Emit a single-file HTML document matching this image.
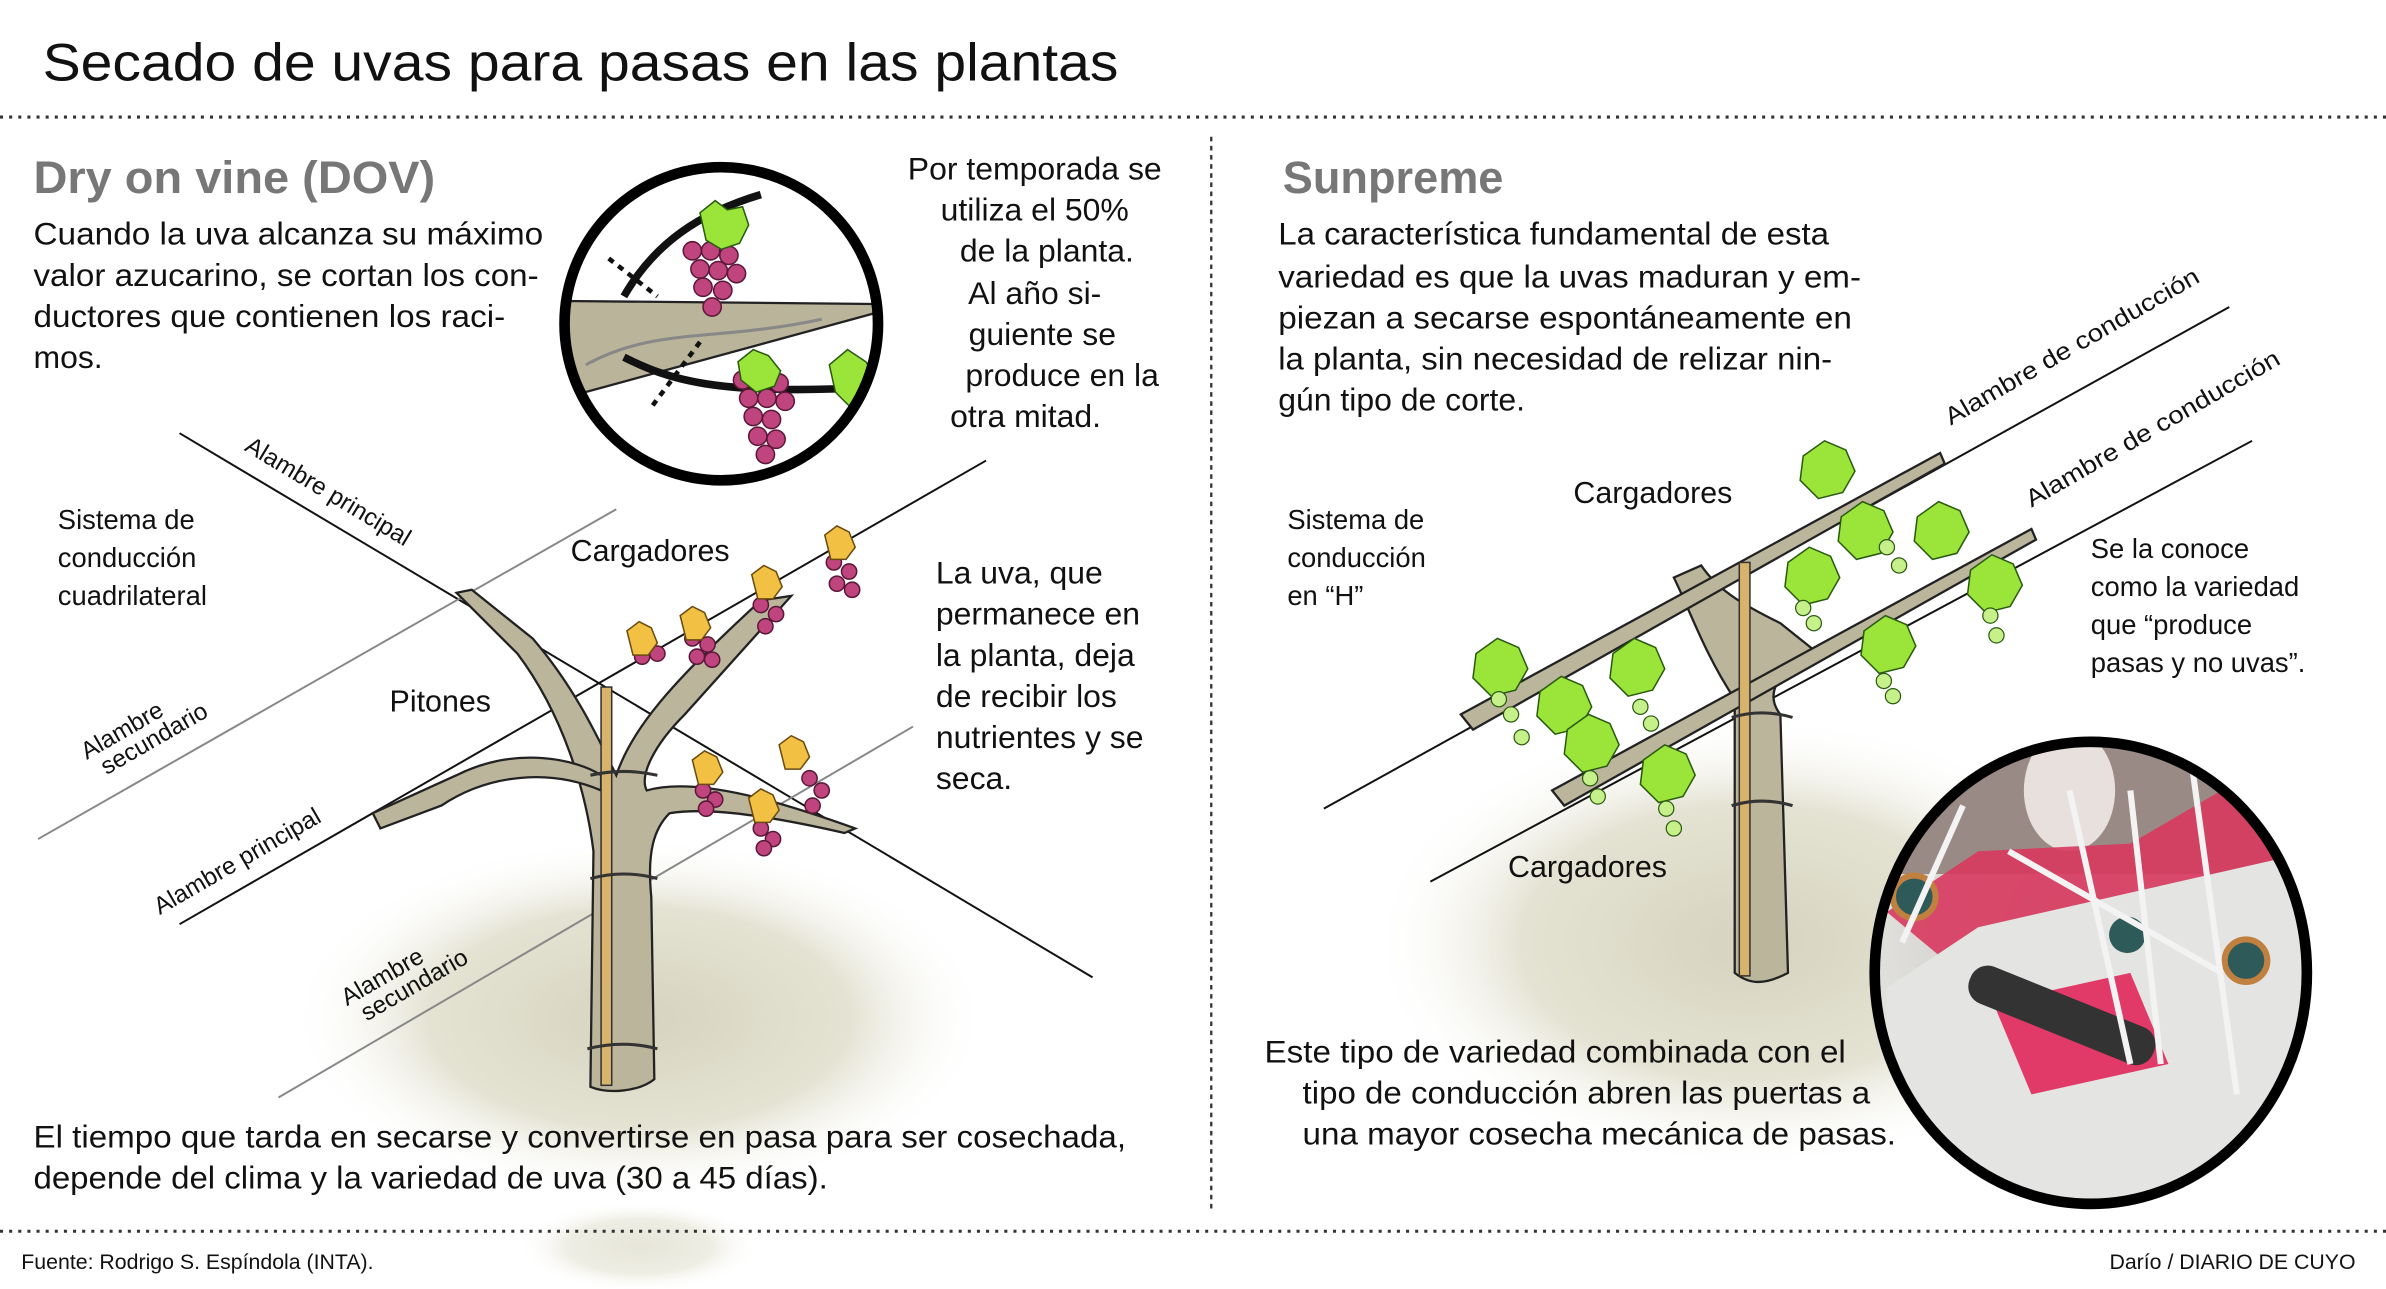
<!DOCTYPE html>
<html><head><meta charset="utf-8"><style>
html,body{margin:0;padding:0;background:#fff;}
svg{display:block;}
text{font-family:"Liberation Sans",sans-serif;fill:#111;}
.p{font-size:21px;}
.s{font-size:18px;}
.w{font-size:16px;}
</style></head><body>
<svg width="2386" height="1289" viewBox="0 0 1568 848" preserveAspectRatio="none" xmlns="http://www.w3.org/2000/svg">
<defs>
<radialGradient id="sh" cx="50%" cy="50%" r="50%">
<stop offset="0" stop-color="#d6d4bf"/><stop offset="0.6" stop-color="#e4e2d2"/><stop offset="1" stop-color="#fff" stop-opacity="0"/>
</radialGradient>
<radialGradient id="ph" cx="45%" cy="40%" r="60%">
<stop offset="0" stop-color="#c8c6c0"/><stop offset="1" stop-color="#e8e8e6"/>
</radialGradient>
<clipPath id="pc"><ellipse cx="1374" cy="640" rx="142" ry="152"/></clipPath>
<clipPath id="dc"><circle cx="474" cy="213" r="103"/></clipPath>
</defs>
<rect width="1568" height="848" fill="#fff"/>
<ellipse cx="420" cy="670" rx="230" ry="120" fill="url(#sh)"/>
<ellipse cx="1150" cy="620" rx="250" ry="150" fill="url(#sh)"/>
<ellipse cx="420" cy="820" rx="80" ry="30" fill="url(#sh)" opacity="0.6"/>

<text x="28" y="53" font-size="35" textLength="707" lengthAdjust="spacingAndGlyphs">Secado de uvas para pasas en las plantas</text>
<line x1="0" y1="77" x2="1568" y2="77" stroke="#333" stroke-width="2" stroke-dasharray="2,4"/>
<line x1="0" y1="810" x2="1568" y2="810" stroke="#333" stroke-width="2" stroke-dasharray="2,4"/>
<line x1="796" y1="90" x2="796" y2="795" stroke="#333" stroke-width="1.5" stroke-dasharray="3,3"/>

<text x="22" y="127" font-size="30" font-weight="bold" style="fill:#777" textLength="264" lengthAdjust="spacingAndGlyphs">Dry on vine (DOV)</text>
<text class="p" x="22" y="161" textLength="335" lengthAdjust="spacingAndGlyphs">Cuando la uva alcanza su máximo</text>
<text class="p" x="22" y="188" textLength="332" lengthAdjust="spacingAndGlyphs">valor azucarino, se cortan los con-</text>
<text class="p" x="22" y="215" textLength="310" lengthAdjust="spacingAndGlyphs">ductores que contienen los raci-</text>
<text class="p" x="22" y="242">mos.</text>

<g>
<circle cx="474" cy="213" r="103" fill="#fff"/>
<g clip-path="url(#dc)">
<polygon points="370,198 575,200 575,206 370,262" fill="#b9b49a" stroke="#222" stroke-width="1.5"/>
<path d="M385,240 C430,215 470,225 540,210" stroke="#888" fill="none" stroke-width="2"/>
<path d="M410,195 C430,160 460,140 500,128" stroke="#111" stroke-width="5" fill="none"/>
<path d="M410,235 C440,250 470,260 570,255" stroke="#111" stroke-width="5" fill="none"/>
<line x1="400" y1="170" x2="432" y2="195" stroke="#111" stroke-width="3" stroke-dasharray="4,4"/>
<line x1="460" y1="225" x2="428" y2="268" stroke="#111" stroke-width="3" stroke-dasharray="4,4"/>
<g fill="#c0457f" stroke="#5a1838" stroke-width="1">
<circle cx="455" cy="165" r="6"/><circle cx="467" cy="165" r="6"/><circle cx="479" cy="168" r="6"/><circle cx="460" cy="177" r="6"/><circle cx="472" cy="178" r="6"/><circle cx="484" cy="180" r="6"/><circle cx="462" cy="189" r="6"/><circle cx="475" cy="191" r="6"/><circle cx="468" cy="202" r="6"/>
<circle cx="488" cy="250" r="6"/><circle cx="500" cy="248" r="6"/><circle cx="512" cy="252" r="6"/><circle cx="492" cy="262" r="6"/><circle cx="504" cy="262" r="6"/><circle cx="516" cy="264" r="6"/><circle cx="495" cy="274" r="6"/><circle cx="507" cy="276" r="6"/><circle cx="498" cy="287" r="6"/><circle cx="510" cy="289" r="6"/><circle cx="503" cy="299" r="6"/>
</g>
<g fill="#9be53a" stroke="#2a5a10" stroke-width="1">
<path d="M460,140 l10,-8 l8,6 l10,-2 l4,12 l-6,12 l-12,4 l-10,-6z"/>
<path d="M485,238 l10,-8 l10,4 l8,10 l-4,10 l-12,4 l-10,-8z"/>
<path d="M545,240 l12,-10 l12,8 l8,12 l-6,12 l-12,6 l-10,-10z"/>
</g>
</g>
<circle cx="474" cy="213" r="103" fill="none" stroke="#000" stroke-width="7"/>
</g>
<g text-anchor="middle">
<text x="680" y="118" font-size="21">Por temporada se</text>
<text x="680" y="145" font-size="21">utiliza el 50%</text>
<text x="688" y="172" font-size="21">de la planta.</text>
<text x="680" y="200" font-size="21">Al año si-</text>
<text x="685" y="227" font-size="21">guiente se</text>
<text x="698" y="254" font-size="21">produce en la</text>
<text x="674" y="281" font-size="21">otra mitad.</text>
</g>

<line x1="118" y1="285" x2="718" y2="643" stroke="#111" stroke-width="1.3"/>
<line x1="25" y1="552" x2="405" y2="335" stroke="#888" stroke-width="1.3"/>
<line x1="118" y1="608" x2="648" y2="303" stroke="#111" stroke-width="1.3"/>
<line x1="183" y1="722" x2="600" y2="478" stroke="#888" stroke-width="1.3"/>
<text class="w" transform="translate(160,296) rotate(31)">Alambre principal</text>
<text class="w" transform="translate(57,500) rotate(-30)">Alambre</text>
<text class="w" transform="translate(70,510) rotate(-30)">secundario</text>
<text class="w" transform="translate(105,602) rotate(-30)">Alambre principal</text>
<text class="w" transform="translate(228,662) rotate(-30)">Alambre</text>
<text class="w" transform="translate(241,672) rotate(-30)">secundario</text>

<g fill="#bbb59c" stroke="#222" stroke-width="1.5">
<path d="M388,715 L390,560 C385,520 370,470 340,430 L300,390 L310,388 L350,420 C380,455 395,490 405,510 C415,480 440,450 500,395 L520,392 L450,470 C430,490 420,510 425,520 C460,510 520,530 562,545 L555,548 C520,540 470,530 440,535 C430,545 425,560 428,590 L430,710 C420,718 400,720 388,715Z"/>
<path d="M395,520 C360,505 320,510 290,530 L250,545 L245,535 L300,510 C340,490 380,500 395,510Z"/>
</g>
<rect x="395" y="452" width="7" height="262" fill="#d8b36b" stroke="#333" stroke-width="1"/>
<path d="M388,510 Q410,505 432,510 M388,578 Q410,572 432,578 M386,690 Q410,684 432,690" stroke="#333" stroke-width="2" fill="none"/>
<g fill="#c0457f" stroke="#5a1838" stroke-width="1">
<circle cx="425" cy="420" r="5"/><circle cx="432" cy="430" r="5"/><circle cx="422" cy="432" r="5"/>
<circle cx="455" cy="420" r="5"/><circle cx="465" cy="424" r="5"/><circle cx="458" cy="432" r="5"/><circle cx="468" cy="434" r="5"/>
<circle cx="500" cy="398" r="5"/><circle cx="510" cy="404" r="5"/><circle cx="503" cy="412" r="5"/>
<circle cx="548" cy="370" r="5"/><circle cx="558" cy="376" r="5"/><circle cx="550" cy="384" r="5"/><circle cx="560" cy="388" r="5"/>
<circle cx="462" cy="520" r="5"/><circle cx="470" cy="526" r="5"/><circle cx="464" cy="532" r="5"/>
<circle cx="500" cy="545" r="5"/><circle cx="508" cy="552" r="5"/><circle cx="502" cy="558" r="5"/>
<circle cx="532" cy="512" r="5"/><circle cx="540" cy="520" r="5"/><circle cx="534" cy="530" r="5"/>
</g>
<g fill="#f2c144" stroke="#6a4a10" stroke-width="1">
<path d="M412,415 l8,-6 l8,4 l4,10 l-6,8 l-10,0z"/>
<path d="M447,405 l8,-6 l8,4 l4,10 l-6,8 l-10,0z"/>
<path d="M494,378 l8,-6 l8,4 l4,10 l-6,8 l-10,0z"/>
<path d="M542,352 l8,-6 l8,4 l4,10 l-6,8 l-10,0z"/>
<path d="M455,500 l8,-6 l8,4 l4,10 l-6,8 l-10,0z"/>
<path d="M492,525 l8,-6 l8,4 l4,10 l-6,8 l-10,0z"/>
<path d="M512,490 l8,-6 l8,4 l4,10 l-6,8 l-10,0z"/>
</g>
<text class="s" x="38" y="348">Sistema de</text>
<text class="s" x="38" y="373">conducción</text>
<text class="s" x="38" y="398">cuadrilateral</text>
<text x="375" y="369" font-size="20">Cargadores</text>
<text x="256" y="468" font-size="20">Pitones</text>
<text class="p" x="615" y="384">La uva, que</text>
<text class="p" x="615" y="411">permanece en</text>
<text class="p" x="615" y="438">la planta, deja</text>
<text class="p" x="615" y="465">de recibir los</text>
<text class="p" x="615" y="492">nutrientes y se</text>
<text class="p" x="615" y="519">seca.</text>
<text class="p" x="22" y="755" textLength="718" lengthAdjust="spacingAndGlyphs">El tiempo que tarda en secarse y convertirse en pasa para ser cosechada,</text>
<text class="p" x="22" y="782" textLength="522" lengthAdjust="spacingAndGlyphs">depende del clima y la variedad de uva (30 a 45 días).</text>

<text x="843" y="127" font-size="30" font-weight="bold" style="fill:#777" textLength="145" lengthAdjust="spacingAndGlyphs">Sunpreme</text>
<text class="p" x="840" y="161" textLength="362" lengthAdjust="spacingAndGlyphs">La característica fundamental de esta</text>
<text class="p" x="840" y="189" textLength="383" lengthAdjust="spacingAndGlyphs">variedad es que la uvas maduran y em-</text>
<text class="p" x="840" y="216" textLength="377" lengthAdjust="spacingAndGlyphs">piezan a secarse espontáneamente en</text>
<text class="p" x="840" y="243" textLength="364" lengthAdjust="spacingAndGlyphs">la planta, sin necesidad de relizar nin-</text>
<text class="p" x="840" y="270">gún tipo de corte.</text>

<line x1="870" y1="532" x2="1465" y2="202" stroke="#111" stroke-width="1.3"/>
<line x1="940" y1="580" x2="1480" y2="290" stroke="#111" stroke-width="1.3"/>
<text class="w" transform="translate(1282,280) rotate(-30)" textLength="190" lengthAdjust="spacingAndGlyphs">Alambre de conducción</text>
<text class="w" transform="translate(1335,334) rotate(-30)" textLength="190" lengthAdjust="spacingAndGlyphs">Alambre de conducción</text>

<g fill="#bbb59c" stroke="#222" stroke-width="1.5">
<path d="M1140,640 L1140,460 C1120,430 1110,400 1100,380 L1118,372 C1130,390 1150,400 1170,410 L1195,430 L1175,440 C1165,450 1162,460 1170,470 L1175,640 C1160,648 1150,648 1140,640Z"/>
<polygon points="960,470 1275,298 1278,305 968,480"/>
<polygon points="1020,520 1335,348 1338,355 1028,530"/>
</g>
<rect x="1143" y="370" width="7" height="272" fill="#d8b36b" stroke="#333" stroke-width="1"/>
<path d="M1138,472 Q1158,466 1178,472 M1138,530 Q1158,524 1178,530" stroke="#333" stroke-width="2" fill="none"/>
<g fill="#9be53a" stroke="#2a5a10" stroke-width="1">
<path d="M970,430 l14,-10 l14,6 l6,14 l-8,14 l-16,4 l-12,-12z"/>
<path d="M1012,455 l14,-10 l14,6 l6,14 l-8,14 l-16,4 l-12,-12z"/>
<path d="M1060,430 l14,-10 l14,6 l6,14 l-8,14 l-16,4 l-12,-12z"/>
<path d="M1030,480 l14,-10 l14,6 l6,14 l-8,14 l-16,4 l-12,-12z"/>
<path d="M1080,500 l14,-10 l14,6 l6,14 l-8,14 l-16,4 l-12,-12z"/>
<path d="M1185,300 l14,-10 l14,6 l6,14 l-8,14 l-16,4 l-12,-12z"/>
<path d="M1210,340 l14,-10 l14,6 l6,14 l-8,14 l-16,4 l-12,-12z"/>
<path d="M1260,340 l14,-10 l14,6 l6,14 l-8,14 l-16,4 l-12,-12z"/>
<path d="M1175,370 l14,-10 l14,6 l6,14 l-8,14 l-16,4 l-12,-12z"/>
<path d="M1225,415 l14,-10 l14,6 l6,14 l-8,14 l-16,4 l-12,-12z"/>
<path d="M1295,375 l14,-10 l14,6 l6,14 l-8,14 l-16,4 l-12,-12z"/>
</g>
<g fill="#c6f08a" stroke="#2a5a10" stroke-width="0.8">
<circle cx="985" cy="460" r="5"/><circle cx="993" cy="470" r="5"/><circle cx="1000" cy="485" r="5"/>
<circle cx="1078" cy="465" r="5"/><circle cx="1085" cy="476" r="5"/>
<circle cx="1045" cy="512" r="5"/><circle cx="1050" cy="524" r="5"/>
<circle cx="1095" cy="532" r="5"/><circle cx="1100" cy="545" r="5"/>
<circle cx="1240" cy="360" r="5"/><circle cx="1248" cy="372" r="5"/>
<circle cx="1185" cy="400" r="5"/><circle cx="1192" cy="410" r="5"/>
<circle cx="1238" cy="448" r="5"/><circle cx="1244" cy="458" r="5"/>
<circle cx="1308" cy="405" r="5"/><circle cx="1312" cy="418" r="5"/>
</g>
<text class="s" x="846" y="348">Sistema de</text>
<text class="s" x="846" y="373">conducción</text>
<text class="s" x="846" y="398">en “H”</text>
<text x="1034" y="331" font-size="20">Cargadores</text>
<text x="991" y="577" font-size="20">Cargadores</text>
<text class="s" x="1374" y="367">Se la conoce</text>
<text class="s" x="1374" y="392">como la variedad</text>
<text class="s" x="1374" y="417">que “produce</text>
<text class="s" x="1374" y="442">pasas y no uvas”.</text>

<g>
<ellipse cx="1374" cy="640" rx="142" ry="152" fill="url(#ph)"/>
<g clip-path="url(#pc)">
<rect x="1230" y="485" width="290" height="90" fill="#9a8a86"/>
<ellipse cx="1360" cy="520" rx="30" ry="40" fill="#e8e0dc"/>
<path d="M1240,600 L1300,560 L1400,555 L1460,520 L1520,540 L1520,600 L1420,640 L1300,650Z" fill="#d8385e" opacity="0.9"/>
<polygon points="1240,650 1300,610 1520,560 1520,800 1240,800" fill="#e4e4e2"/>
<path d="M1310,660 L1400,640 L1425,700 L1335,720Z" fill="#e23a68"/>
<rect x="1290" y="655" width="130" height="26" rx="12" fill="#333" transform="rotate(22 1355 668)"/>
<circle cx="1258" cy="590" r="14" fill="#2f5a5a" stroke="#c08040" stroke-width="4"/>
<circle cx="1476" cy="632" r="14" fill="#2f5a5a" stroke="#c08040" stroke-width="4"/>
<circle cx="1398" cy="615" r="12" fill="#2f5a5a"/>
<g stroke="#f3f3f3" stroke-width="4">
<line x1="1400" y1="520" x2="1420" y2="700"/><line x1="1440" y1="500" x2="1470" y2="720"/>
<line x1="1320" y1="560" x2="1460" y2="640"/><line x1="1360" y1="520" x2="1400" y2="700"/>
<line x1="1250" y1="620" x2="1290" y2="530"/>
</g>
</g>
<ellipse cx="1374" cy="640" rx="142" ry="152" fill="none" stroke="#000" stroke-width="7"/>
</g>
<text class="p" x="831" y="699" textLength="382" lengthAdjust="spacingAndGlyphs">Este tipo de variedad combinada con el</text>
<text class="p" x="856" y="726" textLength="373" lengthAdjust="spacingAndGlyphs">tipo de conducción abren las puertas a</text>
<text class="p" x="856" y="753" textLength="390" lengthAdjust="spacingAndGlyphs">una mayor cosecha mecánica de pasas.</text>

<text x="14" y="835" font-size="14">Fuente: Rodrigo S. Espíndola (INTA).</text>
<text x="1548" y="835" font-size="14" text-anchor="end">Darío / DIARIO DE CUYO</text>
</svg>
</body></html>
